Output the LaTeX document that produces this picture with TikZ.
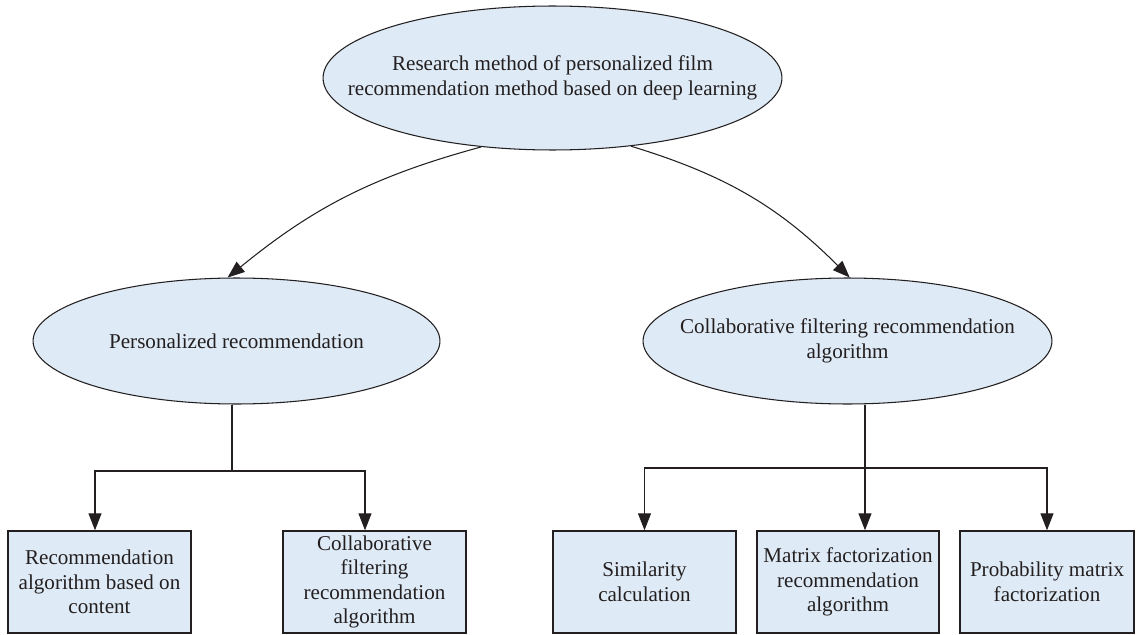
\documentclass[tikz,border=0pt]{standalone}
\usepackage{fontspec}
\setmainfont{Liberation Serif}
\usepackage{xcolor}
\usepackage{tikz}
\usetikzlibrary{arrows.meta,shapes.geometric}
\definecolor{cFill}{RGB}{222,234,245}
\definecolor{cLine}{RGB}{35,31,32}

\begin{document}
\begin{tikzpicture}[x=0.02cm,y=-0.02cm,
  font=\fontsize{12}{14}\selectfont,
  bubble/.style={ellipse,draw=cLine,fill=cFill,line width=0.6pt,inner sep=0pt},
  leaf/.style={rectangle,draw=cLine,fill=cFill,line width=0.8pt,inner sep=2pt,
    align=center,minimum width=3.66cm,minimum height=2.04cm,text=cLine},
  txt/.style={align=center,text=cLine},
  link/.style={draw=cLine,line width=0.6pt},
  arr/.style={link,-{Triangle[length=0.34cm,width=0.26cm]}}]
\useasboundingbox (0,0) rectangle (1136,635);
% ellipses
\node[bubble,minimum width=9.18cm,minimum height=2.88cm,
  label={[txt]center:Research method of personalized film\\recommendation method based on deep learning}]
  (top) at (552.5,78) {};
\node[bubble,minimum width=8.14cm,minimum height=2.52cm,
  label={[txt]center:Personalized recommendation}]
  (pr) at (236.5,341) {};
\node[bubble,minimum width=8.18cm,minimum height=2.52cm,
  label={[txt]center:Collaborative filtering recommendation\\algorithm}]
  (cf) at (847.5,341) {};
% boxes
\node[leaf] (b1) at (99.5,582) {Recommendation\\algorithm based on\\content};
\node[leaf] (b2) at (374.5,582) {Collaborative\\filtering\\recommendation\\algorithm};
\node[leaf] (b3) at (644.5,582) {Similarity\\calculation};
\node[leaf,minimum width=3.64cm] (b4) at (848,582) {Matrix factorization\\recommendation\\algorithm};
\node[leaf,minimum width=3.48cm] (b5) at (1047,582) {Probability matrix\\factorization};
% connectors
\draw[arr] (top.224) to[bend right=12] (pr.98);
\draw[arr] (top.319) to[bend left=14] (cf.88);
\coordinate (jl) at (232,471);
\coordinate (jr) at (865,468);
\draw[link] (pr.south -| jl) -- (jl);
\draw[arr] (jl) -| ([xshift=-0.09cm]b1.north);
\draw[arr] (jl) -| ([xshift=-0.19cm]b2.north);
\draw[arr] (cf.south -| jr) -- (b4.north -| jr);
\draw[arr] (jr) -| (b3.north);
\draw[arr] (jr) -| (b5.north);
\end{tikzpicture}
\end{document}
